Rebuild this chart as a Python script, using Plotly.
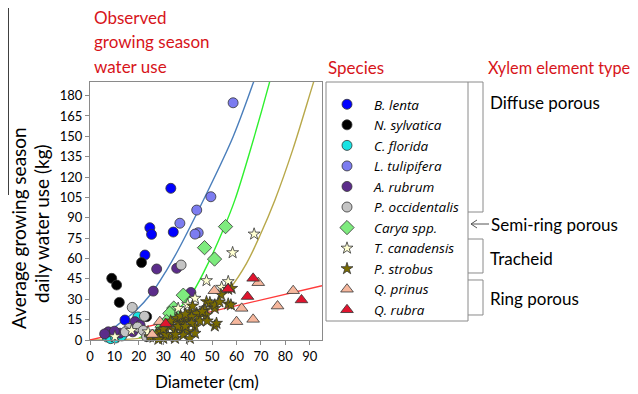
import plotly.graph_objects as go

# ---------------- data ----------------
species = ["B. lenta", "N. sylvatica", "C. florida", "L. tulipifera", "A. rubrum",
           "P. occidentalis", "Carya spp.", "T. canadensis", "P. strobus",
           "Q. prinus", "Q. rubra"]

b_lenta_x = [33.1, 24.5, 25.2, 34.1, 22.5, 14.3]
b_lenta_y = [111.7, 82.7, 77.8, 79.5, 62.6, 14.7]

n_sylv_x = [21.1, 8.9, 10.9, 12.0, 23.2]
n_sylv_y = [57.0, 45.4, 40.5, 27.7, 17.2]

c_flor_x = [7.0, 8.5, 10.5, 13.0, 18.4, 19.1, 19.6]
c_flor_y = [2.2, 1.0, 1.5, 3.0, 9.0, 14.0, 17.0]

l_tul_x = [58.6, 49.5, 43.7, 36.8, 44.3, 43.0]
l_tul_y = [174.7, 105.5, 95.7, 86.0, 79.0, 78.0]

a_rub_x = [27.3, 35.5, 25.9, 41.3, 7.5, 12.3, 18.4, 10.0, 17.5, 20.5, 6.0]
a_rub_y = [52.3, 52.8, 36.0, 35.0, 6.0, 5.0, 13.5, 6.5, 6.0, 11.0, 4.5]

p_occ_x = [37.3, 17.3, 22.3, 16.0, 19.5, 21.8, 23.2, 25.0, 14.5]
p_occ_y = [55.2, 24.0, 17.5, 8.6, 9.5, 7.0, 2.5, 3.0, 6.0]

carya_x = [55.5, 46.9, 51.0, 38.2, 34.3, 35.5, 32.7, 31.4, 29.5]
carya_y = [83.5, 68.0, 59.6, 33.0, 23.5, 18.4, 19.6, 13.5, 9.5]

t_can_x = [67.2, 58.4, 47.7, 56.6, 43.0, 36.1, 53.9, 47.0, 17.0, 10.2, 23.8, 28.0, 40.0]
t_can_y = [78.0, 64.3, 43.7, 43.0, 30.7, 23.3, 38.8, 23.3, 7.0, 2.4, 6.0, 4.0, 26.0]

p_str_x = [56.6, 58.0, 53.6, 47.7, 49.1, 56.6, 57.7, 51.1, 51.1, 45.7, 47.0, 47.7, 44.3,
           51.1, 43.0, 43.7, 40.9, 41.6, 39.5, 38.2, 41.6, 36.1, 32.7, 34.8, 37.5, 40.2,
           43.0, 51.8, 38.2, 34.8, 40.9, 32.0, 30.0, 27.3, 35.5, 37.0, 39.0, 29.0, 31.0,
           26.0, 24.5, 33.0, 36.0, 45.0, 48.0, 53.0, 42.0, 30.0, 28.0, 35.0, 46.0, 39.0]
p_str_y = [37.3, 38.0, 33.5, 28.2, 27.5, 26.5, 25.8, 23.3, 25.8, 19.6, 22.0, 18.4, 17.2,
           10.3, 9.8, 19.6, 20.8, 17.2, 14.7, 13.5, 12.3, 12.3, 9.8, 7.4, 7.4, 6.1,
           4.9, 12.3, 3.7, 1.2, 1.2, 2.4, 1.2, 4.9, 16.0, 17.5, 19.0, 6.0, 4.0,
           2.0, 2.4, 14.0, 10.0, 14.0, 14.0, 28.0, 25.0, 8.0, 0.5, 4.0, 21.0, 10.0]

q_pri_x = [68.9, 50.9, 83.2, 62.1, 76.8, 60.0, 66.8, 28.6, 25.5]
q_pri_y = [42.2, 36.3, 36.3, 23.3, 25.0, 13.5, 15.2, 13.5, 4.0]

q_rub_x = [66.8, 64.5, 86.6, 31.0, 56.5]
q_rub_y = [45.4, 32.0, 29.5, 12.0, 37.5]

# fitted curves
diffuse_x = [7, 13, 18.4, 25.2, 31.4, 36.1, 47.1, 58.6, 66.8, 68.0]
diffuse_y = [5, 13.5, 21, 34.4, 51.5, 66.3, 105.5, 149.7, 189, 195]
semi_x = [20, 27.3, 32.7, 40.9, 47.7, 54.5, 59.3, 66, 73.4, 75]
semi_y = [1.5, 7.4, 17, 32, 54, 81, 103, 142, 189, 200]
trach_x = [0, 10, 20, 30, 40.9, 51, 57.3, 64.1, 69.6, 75.7, 83, 91.4, 93]
trach_y = [0, 0.2, 1.2, 4.3, 10.5, 26, 38, 56.5, 77, 103, 140, 189, 198]
ring_x = [0, 95]
ring_y = [0, 40]

x_ticks = [0, 10, 20, 30, 40, 50, 60, 70, 80, 90]
y_ticks = [0, 15, 30, 45, 60, 75, 90, 105, 120, 135, 150, 165, 180]

# ---------------- figure ----------------
FONT = "Lato"
RED = "#D7141A"
OFF = 8                      # page body margin offset
FW, FH = 638 - OFF, 394 - OFF
L, R, T, B = 90, 322, 82, 340  # plot area in window pixels
W, H = R - L, B - T


def xp(px):
    return (px - L) / W


def yp(py):
    return (B - py) / H


fig = go.Figure()

for cx, cy, col in [(diffuse_x, diffuse_y, "#4A7EBB"), (semi_x, semi_y, "#2EF02E"),
                    (trach_x, trach_y, "#B8A84A"), (ring_x, ring_y, "#FF3B3B")]:
    fig.add_trace(go.Scatter(x=cx, y=cy, mode="lines", line=dict(color=col, width=1.4, shape="spline"),
                             showlegend=False, hoverinfo="skip"))

series = [
    (b_lenta_x, b_lenta_y, "circle", "#0000FF", 10),
    (n_sylv_x, n_sylv_y, "circle", "#000000", 10),
    (c_flor_x, c_flor_y, "circle", "#19E3E3", 10),
    (l_tul_x, l_tul_y, "circle", "#7C7CF0", 10),
    (a_rub_x, a_rub_y, "circle", "#5B2C8A", 10),
    (p_occ_x, p_occ_y, "circle", "#C4C4C4", 10),
    (carya_x, carya_y, "diamond", "#7EEB7E", 11),
    (t_can_x, t_can_y, "star", "#FFFFD2", 9),
    (p_str_x, p_str_y, "star", "#7A6C00", 9),
    (q_pri_x, q_pri_y, "triangle-up", "#F6B79D", 11),
    (q_rub_x, q_rub_y, "triangle-up", "#E0142E", 11),
]
for name, (sx, sy, sym, col, sz) in zip(species, series):
    fig.add_trace(go.Scatter(x=sx, y=sy, mode="markers", name=name,
                             marker=dict(symbol=sym, color=col, size=sz,
                                         line=dict(color="#333333", width=0.8)),
                             cliponaxis=False))

ann = []


def text(s, x, y, size=17, color="black", xanchor="left", angle=0):
    ann.append(dict(text=s, x=xp(x), y=yp(y), xref="paper", yref="paper", showarrow=False,
                    xanchor=xanchor, yanchor="middle", textangle=angle,
                    font=dict(family=FONT, size=size, color=color)))


text("Observed", 92, 17, color=RED)
text("growing season", 92, 42, color=RED)
text("water use", 92, 67, color=RED)
text("Species", 326, 68, color=RED)
text("Xylem element type", 486, 68, size=16.3, color=RED)
text("Diffuse porous", 488, 102)
text("Semi-ring porous", 489, 224)
text("Tracheid", 488, 258)
text("Ring porous", 488, 298)
text("Average growing season", 18, 228, size=19, xanchor="center", angle=-90)
text("daily water use (kg)", 41, 224, size=19, xanchor="center", angle=-90)
text("Diameter (cm)", 207, 381, xanchor="center")


def P(px, py):
    return f"{xp(px):.5f} {yp(py):.5f}"


GR = "#8A8A8A"
shapes = [
    dict(type="rect", xref="paper", yref="paper", x0=xp(326), x1=xp(468), y0=yp(82), y1=yp(321),
         line=dict(color=GR, width=1)),
    dict(type="path", xref="paper", yref="paper",
         path=f"M {P(468, 82)} L {P(483, 82)} L {P(483, 212)} L {P(468, 212)}",
         line=dict(color=GR, width=1)),
    dict(type="path", xref="paper", yref="paper",
         path=f"M {P(468, 239)} L {P(483, 239)} L {P(483, 273)} L {P(468, 273)}",
         line=dict(color=GR, width=1)),
    dict(type="path", xref="paper", yref="paper",
         path=f"M {P(468, 280)} L {P(483, 280)} L {P(483, 315)} L {P(468, 315)}",
         line=dict(color=GR, width=1)),
    dict(type="path", xref="paper", yref="paper",
         path=f"M {P(489, 224)} L {P(471, 224)} M {P(477, 220)} L {P(471, 224)} L {P(477, 228)}",
         line=dict(color="#555555", width=1)),
    dict(type="line", xref="paper", yref="paper", x0=xp(8), x1=xp(8), y0=yp(0), y1=yp(195),
         line=dict(color="black", width=1.5)),
]

axis_common = dict(showline=True, mirror=True, linecolor=GR, linewidth=1, ticks="outside",
                   ticklen=4, tickcolor=GR, showgrid=False, zeroline=False,
                   tickfont=dict(family=FONT, size=13, color="black"))

fig.update_layout(
    width=FW, height=FH,
    margin=dict(l=L - OFF, r=FW - (R - OFF), t=T - OFF, b=FH - (B - OFF), pad=0),
    paper_bgcolor="white", plot_bgcolor="white",
    xaxis=dict(range=[0, 95], tickvals=x_ticks, **axis_common),
    yaxis=dict(range=[0, 190], tickvals=y_ticks, **axis_common),
    legend=dict(x=xp(320), y=yp(89), xanchor="left", yanchor="top", bgcolor="rgba(0,0,0,0)",
                borderwidth=0, itemwidth=44, tracegroupgap=0,
                font=dict(family="Open Sans", size=13.5, style="italic", color="black")),
    annotations=ann, shapes=shapes,
    font=dict(family=FONT),
)

fig.write_html("out.html")
